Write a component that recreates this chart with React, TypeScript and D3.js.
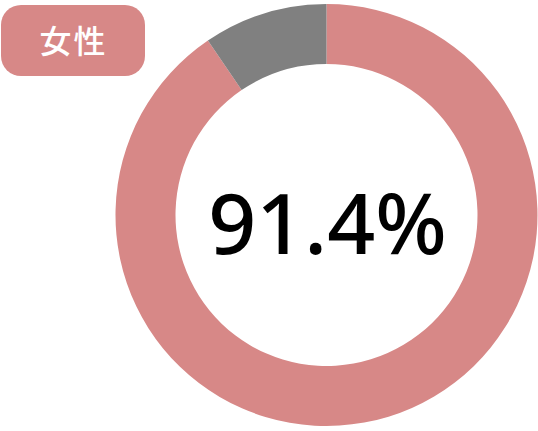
import React from "react";
import * as d3 from "d3";

const categories = ["女性", "その他"];
const values = [90.5, 9.5];
const labelText = "女性";
const centerText = "91.4%";
const colors = ["#d78887", "#808080"];

export default function App() {
  const width = 538;
  const height = 431;
  const cx = 326.5;
  const cy = 215;
  const outerR = 211;
  const innerR = 151;

  const pie = d3.pie<number>().sort(null).startAngle(0).endAngle(2 * Math.PI);
  const arcs = pie(values);
  const arc = d3.arc<d3.PieArcDatum<number>>().innerRadius(innerR).outerRadius(outerR);

  return (
    <svg
      width={width}
      height={height}
      style={{ position: "absolute", left: 0, top: 0, display: "block" }}
    >
      <g transform={`translate(${cx},${cy})`}>
        {arcs.map((a, i) => (
          <path key={categories[i]} d={arc(a) || ""} fill={colors[i]} />
        ))}
        <text
          x={1}
          y={39}
          textAnchor="middle"
          fontFamily="'Noto Sans', sans-serif"
          fontWeight={500}
          fontSize={84}
          fill="#000"
        >
          {centerText}
        </text>
      </g>
      <rect x={1} y={5} width={144} height={71} rx={20} ry={20} fill={colors[0]} />
      <text
        x={73.5}
        y={53}
        textAnchor="middle"
        fontFamily="'Noto Sans CJK JP', sans-serif"
        fontWeight={500}
        fontSize={32}
        fill="#fff"
        letterSpacing={2}
      >
        {labelText}
      </text>
    </svg>
  );
}
